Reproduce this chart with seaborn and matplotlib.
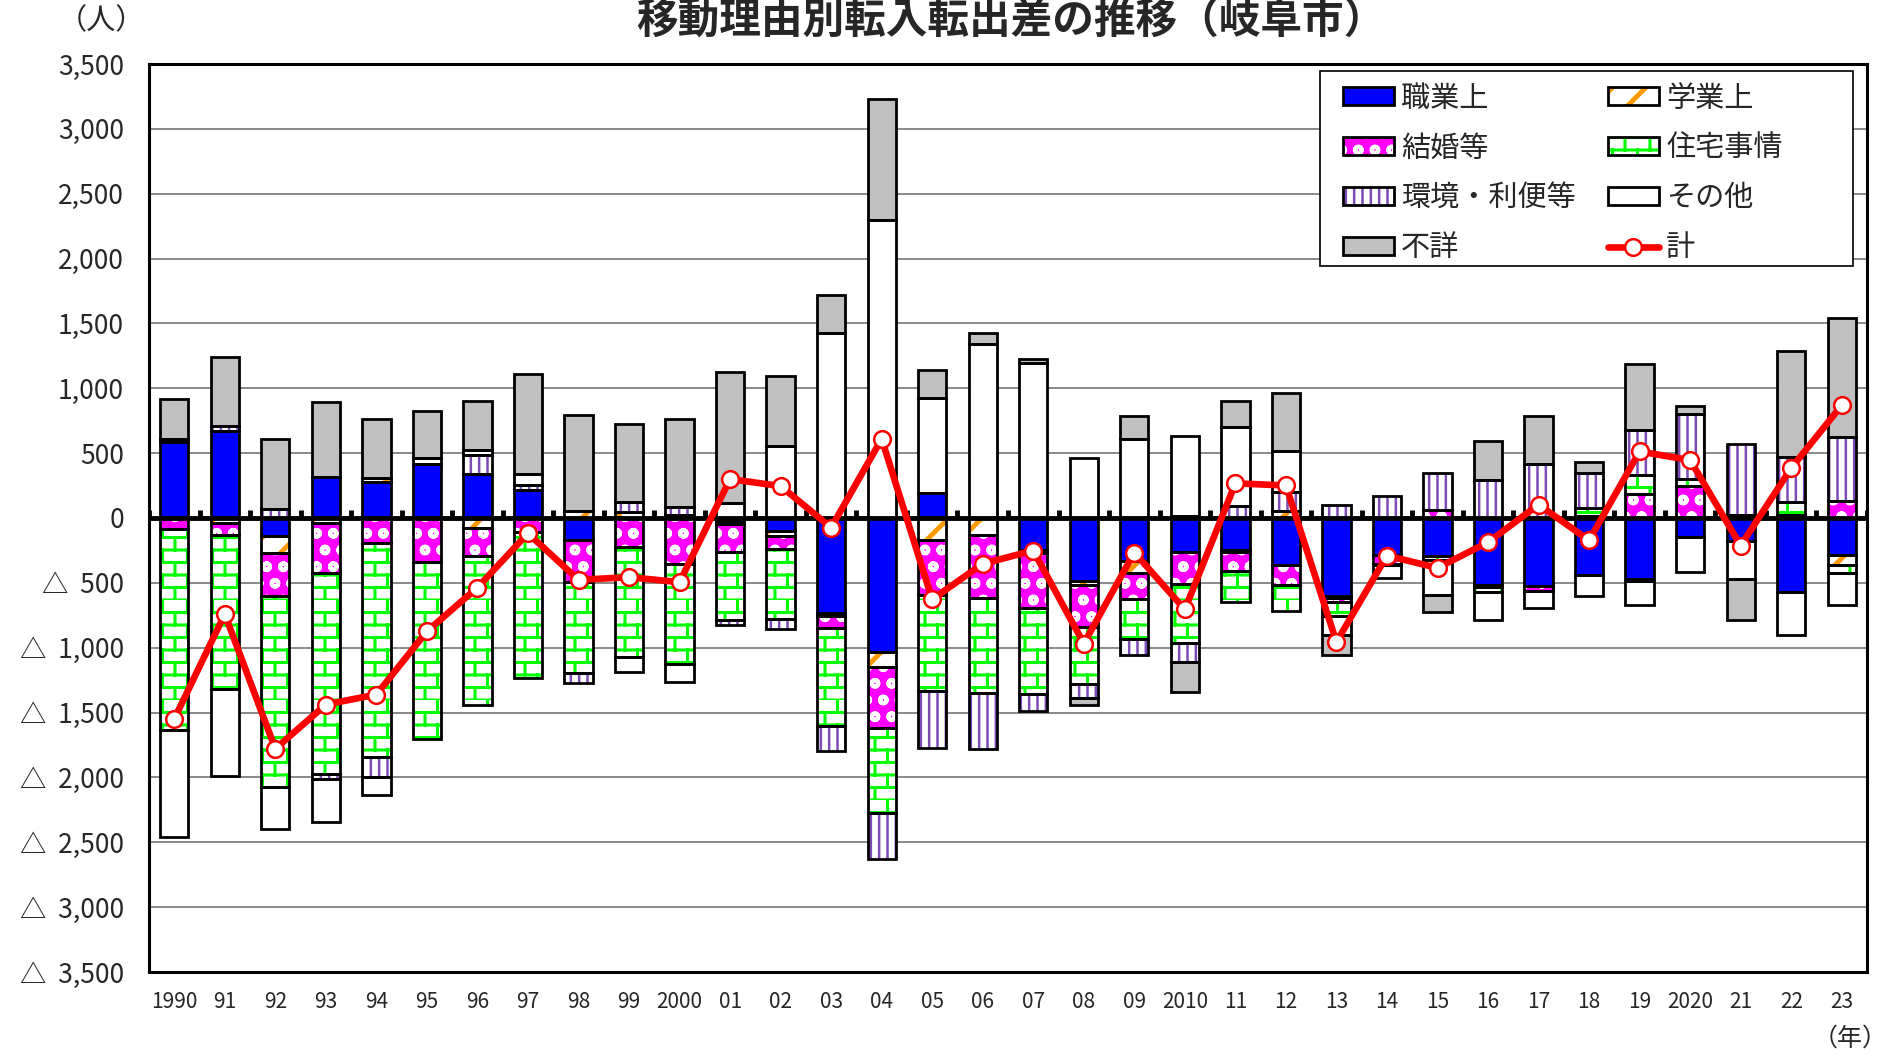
import warnings
import numpy as np
import matplotlib
matplotlib.use("Agg")
import matplotlib.pyplot as plt
import matplotlib.hatch as mhatch
from matplotlib.path import Path
from matplotlib.patches import Patch, Rectangle
from matplotlib.lines import Line2D
from matplotlib.legend_handler import HandlerTuple
import seaborn as sns

warnings.filterwarnings("ignore")

# ---- data (persons, net in-migration by reason, Gifu city) ----
year_labels = ["1990", "91", "92", "93", "94", "95", "96", "97", "98", "99",
               "2000", "01", "02", "03", "04", "05", "06", "07", "08", "09",
               "2010", "11", "12", "13", "14", "15", "16", "17", "18", "19",
               "2020", "21", "22", "23"]

shokugyo = [585, 672, -140, 318, 274, 420, 338, 215, -170, 0,
            0, -20, -97, -730, -1030, 196, 0, -243, -482, -333,
            -262, -244, -364, -600, -282, -295, -513, -526, -436, -469,
            -149, -174, -572, -282]
gakugyo = [25, -35, -130, -40, 33, 0, -80, 0, 56, 50,
           25, -25, -45, -25, -115, -170, -133, -30, -38, -90,
           15, -18, 55, -20, 0, 0, 0, 0, 15, -20,
           0, 20, 20, -77]
kekkon = [-85, -95, -330, -385, -190, -336, -215, -105, -325, -220,
          -354, -215, -100, -90, -475, -422, -482, -420, -318, -205,
          -246, -148, -149, -25, -75, 60, -20, -40, 0, 185,
          249, 0, 0, 133]
jutaku = [-1550, -1190, -1475, -1545, -1650, -1366, -1150, -1128, -700, -855,
          -770, -525, -540, -760, -655, -745, -737, -666, -444, -302,
          -459, -239, -205, -110, -5, -25, -40, 0, 60, 148,
          50, 0, 100, -65]
kankyo = [0, 38, 72, -40, -160, 0, 150, 40, -80, 70,
          57, -40, -76, -192, -355, -436, -428, -130, -102, -129,
          -143, 90, 142, 103, 172, 285, 295, 418, 271, 344,
          501, 549, 347, 493]
sonota = [-825, -670, -320, -330, -135, 40, 35, 88, 0, -115,
          -140, 113, 556, 1425, 2300, 730, 1345, 1196, 463, 612,
          620, 615, 316, -150, -100, -277, -215, -128, -166, -185,
          -270, -295, -330, -250]
fusho = [305, 534, 536, 577, 460, 366, 380, 765, 739, 608,
         685, 1010, 540, 298, 932, 212, 78, 31, -59, 172,
         -231, 197, 448, -155, 0, -129, 302, 369, 85, 508,
         64, -321, 820, 918]
total = [-1549, -741, -1779, -1438, -1361, -874, -536, -118, -477, -456,
         -495, 300, 246, -74, 610, -627, -353, -251, -968, -266,
         -705, 267, 251, -956, -290, -385, -187, 103, -172, 513,
         446, -213, 385, 869]

series_names = ["職業上", "学業上", "結婚等", "住宅事情", "環境・利便等", "その他", "不詳"]
series_vals = [shokugyo, gakugyo, kekkon, jutaku, kankyo, sonota, fusho]


# brick hatch ('b') for 住宅事情
class BrickHatch(mhatch.HatchPatternBase):
    def __init__(self, hatch, density):
        n = hatch.count("b")
        self.rows = 8 * n
        self.cols = 4
        self.num_vertices = self.rows * 2 * (1 + self.cols) if n else 0

    def set_vertices_and_codes(self, vertices, codes):
        h = 1.0 / self.rows
        k = 0
        for i in range(self.rows):
            y = i * h
            vertices[k] = (0.0, y)
            vertices[k + 1] = (1.0, y)
            k += 2
            off = 0.5 / self.cols if i % 2 else 0.0
            for j in range(self.cols):
                xx = j / self.cols + off
                vertices[k] = (xx, y)
                vertices[k + 1] = (xx, y + h)
                k += 2
        codes[0::2] = Path.MOVETO
        codes[1::2] = Path.LINETO


mhatch._hatch_types.append(BrickHatch)

# face, hatch colour, hatch, hatch linewidth
styles = [
    ("#0000FF", "#0000FF", None, 1.0),
    ("white", "#FF9900", "/", 3.5),
    ("#FF00FF", "white", "o", 3.0),
    ("white", "#00FF00", "b", 2.2),
    ("white", "#7E4AB8", "||", 1.8),
    ("white", "white", None, 1.0),
    ("#C0C0C0", "#C0C0C0", None, 1.0),
]
hatch_lw = {s[2]: s[3] for s in styles if s[2]}


def set_hlw(p):
    h = p.get_hatch()
    if h in hatch_lw and hasattr(p, "set_hatch_linewidth"):
        p.set_hatch_linewidth(hatch_lw[h])


sns.set_theme(style="white")
plt.rcParams["font.family"] = ["Noto Sans CJK JP", "DejaVu Sans"]

fig = plt.figure(figsize=(18.95, 10.55), dpi=100)
ax = fig.add_axes([149 / 1895, 1 - 972 / 1055, 1718 / 1895, 908 / 1055])

x = np.arange(len(year_labels))
bw = 0.56
pos_base = np.zeros(len(x))
neg_base = np.zeros(len(x))
handles = []
for name, vals, (face, hc, hatch, hlw) in zip(series_names, series_vals, styles):
    v = np.array(vals, dtype=float)
    keep = v != 0
    bottom = np.where(v >= 0, pos_base, neg_base)
    with plt.rc_context({"hatch.linewidth": hlw}):
        fill = ax.bar(x[keep], v[keep], bottom=bottom[keep], width=bw,
                      color=face, edgecolor=hc, hatch=hatch, linewidth=0, zorder=2)
        for p in fill:
            set_hlw(p)
    ax.bar(x[keep], v[keep], bottom=bottom[keep], width=bw,
           fill=False, edgecolor="black", linewidth=2.0, zorder=3)
    pos_base += np.where(v > 0, v, 0)
    neg_base += np.where(v < 0, v, 0)
    hp = Patch(facecolor=face, edgecolor=hc, hatch=hatch, linewidth=0)
    ho = Patch(fill=False, edgecolor="black", linewidth=2.0)
    handles.append(((hp, ho), name))

# zero line with small category ticks
ax.axhline(0, color="black", lw=3.5, zorder=4)
ax.vlines(np.arange(len(x) + 1) - 0.5, 0, 60, colors="black", lw=3.5, zorder=4)

# total line
sns.lineplot(x=x, y=total, ax=ax, color="red", lw=4.8, marker="o",
             markersize=12, markerfacecolor="white", markeredgecolor="red",
             markeredgewidth=1.8, zorder=6)

ax.set_xlim(-0.5, len(x) - 0.5)
ax.set_ylim(-3500, 3500)
yt = np.arange(-3500, 3501, 500)
ax.set_yticks(yt)
ax.set_yticklabels([f"{t:,}" if t >= 0 else f"△  {-t:,}" for t in yt], fontsize=19)
ax.set_xticks(x)
ax.set_xticklabels(year_labels, fontsize=15)
ax.tick_params(axis="y", length=0, pad=18)
ax.tick_params(axis="x", length=0, pad=14)
ax.yaxis.grid(True, color="#808080", lw=1.3)
ax.set_axisbelow(True)
for s in ax.spines.values():
    s.set_color("black")
    s.set_linewidth(2.2)
ax.set_xlabel("")
ax.set_ylabel("")

# legend box + legend
fig.add_artist(Rectangle((1320 / 1895, 1 - 266 / 1055), 533 / 1895, 195 / 1055,
                         transform=fig.transFigure, facecolor="white",
                         edgecolor="black", lw=1.2, zorder=4))
line_h = Line2D([], [], color="red", lw=4.8, marker="o", markersize=12,
                markerfacecolor="white", markeredgecolor="red", markeredgewidth=1.8)
col1 = [handles[0], handles[2], handles[4], handles[6]]
col2 = [handles[1], handles[3], handles[5], (line_h, "計")]
order = col1 + col2
leg = fig.legend([h for h, _ in order], [l for _, l in order], ncol=2,
                 loc="upper left", bbox_to_anchor=(1328 / 1895, 1 - 69 / 1055),
                 frameon=False, fontsize=21, borderpad=0, handlelength=1.75,
                 handleheight=0.55, handletextpad=0.25, columnspacing=1.1,
                 labelspacing=0.68, handler_map={tuple: HandlerTuple(ndivide=1)})
for p in leg.findobj(Patch):
    set_hlw(p)

fig.text(101 / 1895, 1 - 21 / 1055, "（人）", ha="center", va="center", fontsize=21)
fig.text(1888 / 1895, 1 - 1039 / 1055, "（年）", ha="right", va="center", fontsize=18)
fig.text(1011 / 1895, 1 - 1 / 1055, "移動理由別転入転出差の推移（岐阜市）",
         ha="center", va="top", fontsize=30, fontweight="bold")

fig.savefig("out.png", dpi=100)
